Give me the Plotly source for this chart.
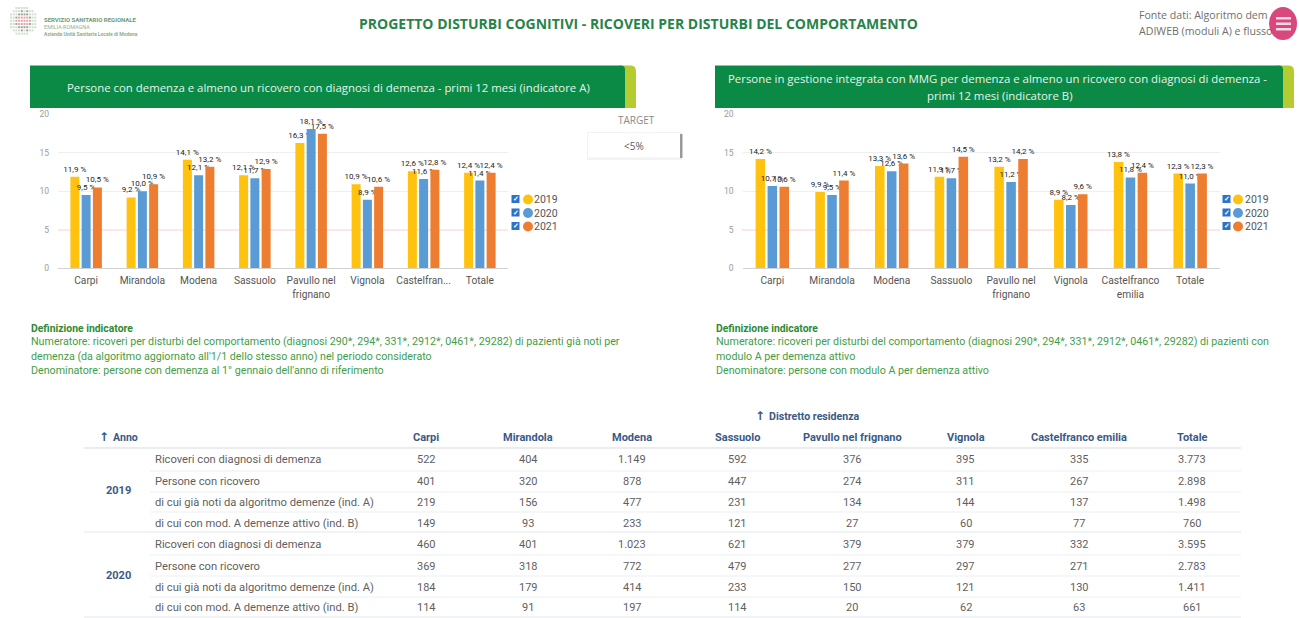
import plotly.graph_objects as go

W, H = 1299, 618
YEARS = ["2019", "2020", "2021"]
COLORS = ["#FFC20E", "#5B9BD5", "#ED7D31"]
CATS_A = ["Carpi", "Mirandola", "Modena", "Sassuolo", "Pavullo nel<br>frignano", "Vignola", "Castelfran...", "Totale"]
CATS_B = ["Carpi", "Mirandola", "Modena", "Sassuolo", "Pavullo nel<br>frignano", "Vignola", "Castelfranco<br>emilia", "Totale"]
A_2019 = [11.9, 9.2, 14.1, 12.1, 16.3, 10.9, 12.6, 12.4]
A_2020 = [9.5, 10.0, 12.1, 11.7, 18.1, 8.9, 11.6, 11.4]
A_2021 = [10.5, 10.9, 13.2, 12.9, 17.5, 10.6, 12.8, 12.4]
B_2019 = [14.2, 9.9, 13.3, 11.9, 13.2, 8.9, 13.8, 12.3]
B_2020 = [10.7, 9.5, 12.6, 11.7, 11.2, 8.2, 11.8, 11.0]
B_2021 = [10.6, 11.4, 13.6, 14.5, 14.2, 9.6, 12.4, 12.3]
TARGET = 5

TABLE_COLS = ["Carpi", "Mirandola", "Modena", "Sassuolo", "Pavullo nel frignano", "Vignola", "Castelfranco emilia", "Totale"]
ROW_LABELS = ["Ricoveri con diagnosi di demenza", "Persone con ricovero",
              "di cui già noti da algoritmo demenze (ind. A)", "di cui con mod. A demenze attivo (ind. B)"]
T_2019 = [["522", "404", "1.149", "592", "376", "395", "335", "3.773"],
          ["401", "320", "878", "447", "274", "311", "267", "2.898"],
          ["219", "156", "477", "231", "134", "144", "137", "1.498"],
          ["149", "93", "233", "121", "27", "60", "77", "760"]]
T_2020 = [["460", "401", "1.023", "621", "379", "379", "332", "3.595"],
          ["369", "318", "772", "479", "277", "297", "271", "2.783"],
          ["184", "179", "414", "233", "150", "121", "130", "1.411"],
          ["114", "91", "197", "114", "20", "62", "63", "661"]]

GREEN = "#0B8A45"
OLIVE = "#B4CC2F"
TXT_GREEN = "#3F9E48"
BLUE = "#3A5A86"
GREY = "#5F5F5F"
ROBOTO = "Roboto"
POP = "Open Sans"

fig = go.Figure()


def pct(v):
    return f"{v:.1f}".replace(".", ",") + " %"


for axis, cats, series in (("", CATS_A, (A_2019, A_2020, A_2021)), ("2", CATS_B, (B_2019, B_2020, B_2021))):
    for name, color, vals in zip(YEARS, COLORS, series):
        fig.add_bar(x=cats, y=vals, name=name, marker_color=color, marker_line_width=0,
                    xaxis="x" + axis, yaxis="y" + axis, text=[pct(v) for v in vals],
                    textposition="outside", textangle=0, constraintext="none", cliponaxis=False,
                    textfont=dict(size=8, color="#222222", family=ROBOTO), showlegend=False)

annots = []
shapes = []


def ann(x, y, text, size=10, color=GREY, anchor="left", family=ROBOTO):
    annots.append(dict(x=x / W, y=1 - y / H, xref="paper", yref="paper", text=text, showarrow=False,
                       xanchor=anchor, yanchor="middle", align=anchor, borderpad=0,
                       font=dict(size=size, color=color, family=family)))


def rect(x0, y0, x1, y1, color, line=None):
    shapes.append(dict(type="rect", xref="paper", yref="paper", x0=x0 / W, x1=x1 / W,
                       y0=1 - y0 / H, y1=1 - y1 / H, fillcolor=color, layer="above",
                       line=dict(width=1 if line else 0, color=line or color)))


def hline(x0, x1, y, color, width=1):
    shapes.append(dict(type="line", xref="paper", yref="paper", x0=x0 / W, x1=x1 / W,
                       y0=1 - y / H, y1=1 - y / H, layer="above", line=dict(color=color, width=width)))


def band(x0, x1, x2, y0, y1):
    # olive tab with a rounded top right corner, green band over it
    fx = lambda v: v / W
    fy = lambda v: 1 - v / H
    shapes.append(dict(type="path", xref="paper", yref="paper", layer="above", fillcolor=OLIVE, line=dict(width=0),
                       path=f"M {fx(x1 - 6)} {fy(y0)} L {fx(x2 - 5)} {fy(y0)} Q {fx(x2)} {fy(y0)} {fx(x2)} {fy(y0 + 6)} "
                            f"L {fx(x2)} {fy(y1)} L {fx(x1 - 6)} {fy(y1)} Z"))
    shapes.append(dict(type="path", xref="paper", yref="paper", layer="above", fillcolor=GREEN, line=dict(width=0),
                       path=f"M {fx(x0)} {fy(y0)} L {fx(x1 - 4)} {fy(y0)} Q {fx(x1)} {fy(y0)} {fx(x1)} {fy(y0 + 4)} "
                            f"L {fx(x1)} {fy(y1)} L {fx(x0)} {fy(y1)} Z"))


# Logo
logo = ["..ggggg...", ".gggdgdgg.", "gggddddggg", "ggdrrrrdgg", "ggrrrrrrgg", "ggdrrrrdgg", "gggddddggg", ".gggdgdgg.", "..ggggg..."]
palette = {"g": "#CFE0CF", "d": "#9DA89D", "r": "#E8A5A5"}
for r, row in enumerate(logo):
    for c, ch in enumerate(row):
        if ch in palette:
            rect(10 + c * 2.7, 7 + r * 3.2, 12 + c * 2.7, 9 + r * 3.2, palette[ch])
ann(43, 19.5, "<b>SERVIZIO SANITARIO REGIONALE</b>", 6, "#6E9A78")
ann(43, 27, "EMILIA-ROMAGNA", 5.5, "#93AF97")
ann(43, 34, "<b>Azienda Unità Sanitaria Locale di Modena</b>", 5, "#8FB08F")

# Title
ann(638, 23, "<b>PROGETTO DISTURBI COGNITIVI - RICOVERI PER DISTURBI DEL COMPORTAMENTO</b>", 14, "#27834A", "center", POP)
ann(1138, 15, "Fonte dati: Algoritmo dem", 10.6, "#6F6F6F", family=POP)
ann(1138, 31, "ADIWEB (moduli A) e flusso", 10.6, "#6F6F6F", family=POP)
shapes.append(dict(type="circle", xref="paper", yref="paper", x0=1269 / W, x1=1297 / W, y0=1 - 7 / H, y1=1 - 40 / H,
                   fillcolor="#D9487D", line=dict(width=0), layer="above"))
for y in (17, 22.5, 28):
    rect(1276, y, 1291, y + 2.5, "#F3D9E3")

# Bands
band(30, 625, 636, 65.5, 108)
band(715, 1283, 1294, 65.5, 108)
ann(328, 88, "Persone con demenza e almeno un ricovero con diagnosi di demenza - primi 12 mesi (indicatore A)", 11.4, "#E6F3EA", "center", POP)
ann(997, 78.5, "Persone in gestione integrata con MMG per demenza e almeno un ricovero con diagnosi di demenza -", 11.4, "#E6F3EA", "center", POP)
ann(1000, 95, "primi 12 mesi (indicatore B)", 11.4, "#E6F3EA", "center", POP)

# Target box
ann(636, 120, "TARGET", 10, "#8A8A8A", "center", POP)
rect(587, 132, 682, 160, "#F3F3F3")
rect(588, 133, 680, 157.5, "#FFFFFF")
rect(680, 134, 682.5, 158, "#9A9A9A")
ann(634, 146, "&lt;5%", 10, "#5A5A5A", "center", POP)

# Legends
for cx, dx, tx in ((516, 528, 533), (1227, 1238, 1244)):
    for i, (name, color) in enumerate(zip(YEARS, COLORS)):
        y = 199.5 + i * 13.5
        rect(cx - 4.5, y - 4.5, cx + 3.5, y + 3.5, "#2B73C8")
        ann(cx - 0.5, y - 0.5, "<b>✓</b>", 7, "#FFFFFF", "center")
        shapes.append(dict(type="circle", xref="paper", yref="paper", layer="above", fillcolor=color, line=dict(width=0),
                           x0=(dx - 5) / W, x1=(dx + 5) / W, y0=1 - (y - 5) / H, y1=1 - (y + 5) / H))
        ann(tx, y, name, 10.5, "#555555")

# Definitions
ann(30, 328, "<b>Definizione indicatore</b>", 10.4, "#2F8A36")
ann(30, 341.5, "Numeratore: ricoveri per disturbi del comportamento (diagnosi 290*, 294*, 331*, 2912*, 0461*, 29282) di pazienti già noti per", 10.7, TXT_GREEN)
ann(30, 356, "demenza (da algoritmo aggiornato all'1/1 dello stesso anno) nel periodo considerato", 10.7, TXT_GREEN)
ann(30, 370.5, "Denominatore: persone con demenza al 1° gennaio dell'anno di riferimento", 10.7, TXT_GREEN)
ann(715, 328, "<b>Definizione indicatore</b>", 10.4, "#2F8A36")
ann(715, 341.5, "Numeratore: ricoveri per disturbi del comportamento (diagnosi 290*, 294*, 331*, 2912*, 0461*, 29282) di pazienti con", 10.7, TXT_GREEN)
ann(715, 356, "modulo A per demenza attivo", 10.7, TXT_GREEN)
ann(715, 370.5, "Denominatore: persone con modulo A per demenza attivo", 10.7, TXT_GREEN)

# Table
ann(760, 416, "<b>↑</b>", 12, BLUE, "center", "DejaVu Sans")
ann(768, 416, "<b>Distretto residenza</b>", 10.6, BLUE, "left")
ann(104, 437, "<b>↑</b>", 12, BLUE, "center", "DejaVu Sans")
ann(112, 437, "<b>Anno</b>", 10.6, BLUE, "left")
COL_X = [426, 528, 632, 737, 852, 966, 1079, 1192]
for cx, name in zip(COL_X, TABLE_COLS):
    ann(cx, 437, f"<b>{name}</b>", 11, BLUE, "center")
hline(84, 1241, 448, "#D5D9DE", 1)
ROW_Y = [459, 481, 502, 523, 544, 566, 587, 607]
SEP_Y = [471, 492, 512, 532, 555, 576, 597, 617]
for year, yc, rows, offset in (("2019", 490, T_2019, 0), ("2020", 575, T_2020, 4)):
    ann(119, yc, f"<b>{year}</b>", 11, BLUE, "center")
    for r, (label, vals) in enumerate(zip(ROW_LABELS, rows)):
        y = ROW_Y[offset + r]
        ann(154, y, label, 11.2, GREY)
        for cx, v in zip(COL_X, vals):
            ann(cx, y, v, 11, GREY, "center")
        sep = SEP_Y[offset + r]
        if r == 3:
            hline(84, 1241, sep, "#E4E7EA", 1)
        else:
            hline(150, 1241, sep, "#EDEFF1", 1)

# Target line behind the bars
for xa, ya in (("x", "y"), ("x2", "y2")):
    shapes.append(dict(type="line", xref=f"{xa} domain", yref=ya, x0=0, x1=1, y0=TARGET, y1=TARGET, layer="above",
                       line=dict(color="#E39AA2", width=1.3)))
# bars are redrawn above the line by keeping it under the trace layer
shapes[-1]["layer"] = "below"
shapes[-2]["layer"] = "below"


def xaxis(x0, x1, cats):
    return dict(domain=[x0 / W, x1 / W], type="category", categoryorder="array", categoryarray=cats,
                showgrid=False, showline=True, linecolor="#D2D2D2", linewidth=1, ticks="", fixedrange=True,
                tickangle=0, tickfont=dict(size=10.2, color="#555555", family=ROBOTO), ticklabelstandoff=3)


def yaxis(anchor):
    return dict(domain=[1 - 268 / H, 1 - 114.5 / H], range=[0, 20], tickvals=[0, 5, 10, 15, 20], anchor=anchor,
                showgrid=True, gridcolor="#EFEFEF", gridwidth=1, zeroline=False, showline=False, ticks="",
                tickfont=dict(size=8.5, color="#9A9A9A", family=ROBOTO), ticklabelstandoff=8, fixedrange=True)


fig.update_layout(
    width=W, height=H, margin=dict(l=0, r=0, t=0, b=0, autoexpand=False), autosize=False,
    paper_bgcolor="#FFFFFF", plot_bgcolor="#FFFFFF",
    barmode="group", bargap=0.4, bargroupgap=0.2, showlegend=False,
    xaxis=dict(anchor="y", **xaxis(58, 508, CATS_A)), yaxis=yaxis("x"),
    xaxis2=dict(anchor="y2", **xaxis(742.5, 1220, CATS_B)), yaxis2=yaxis("x2"),
    annotations=annots, shapes=shapes, font=dict(family=ROBOTO),
)

fig.write_html("out.html", config=dict(displayModeBar=False),
               post_script="document.body.style.margin='0';document.body.style.overflow='hidden';")
